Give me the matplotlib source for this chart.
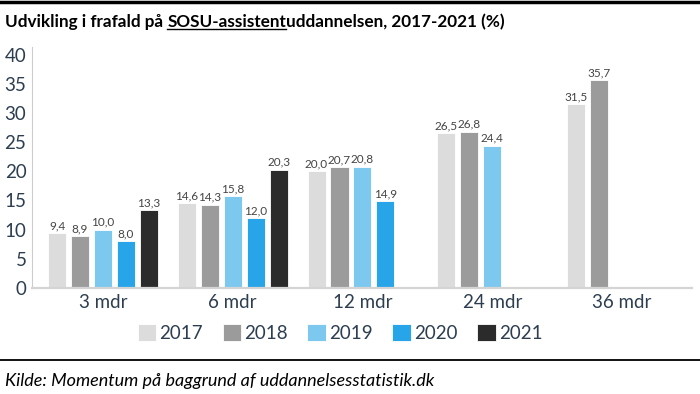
import numpy as np
import matplotlib
matplotlib.use("Agg")
import matplotlib.pyplot as plt
from matplotlib.lines import Line2D

plt.rcParams["font.family"] = ["Lato", "DejaVu Sans"]

# data
categories = ["3 mdr", "6 mdr", "12 mdr", "24 mdr", "36 mdr"]
years = ["2017", "2018", "2019", "2020", "2021"]
v2017 = [9.4, 14.6, 20.0, 26.5, 31.5]
v2018 = [8.9, 14.3, 20.7, 26.8, 35.7]
v2019 = [10.0, 15.8, 20.8, 24.4, np.nan]
v2020 = [8.0, 12.0, 14.9, np.nan, np.nan]
v2021 = [13.3, 20.3, np.nan, np.nan, np.nan]
series = [v2017, v2018, v2019, v2020, v2021]
colors = ["#dcdcdc", "#9b9b9b", "#7dc8ee", "#27a5e8", "#2b2b2b"]

text_col = "#2c3e50"

fig = plt.figure(figsize=(7, 3.94), dpi=100)
W, H = 700, 394
ax = fig.add_axes([32 / W, 1 - 288 / H, (692 - 32) / W, (288 - 47) / H])

x = np.arange(len(categories))
pitch = 0.177
width = 0.139
for i, (vals, c, yr) in enumerate(zip(series, colors, years)):
    pos = x + (i - 2) * pitch
    ax.bar(pos, vals, width, color=c, edgecolor="white", linewidth=0.6, label=yr)
    for xp, v in zip(pos, vals):
        if np.isnan(v):
            continue
        ax.text(xp, v + 0.3, f"{v:.1f}".replace(".", ","), ha="center", va="bottom",
                fontsize=8.5, color="#444444")

ax.set_xlim(-0.547, 4.54)
ax.set_ylim(0, 41.3)
ax.set_yticks(range(0, 41, 5))
ax.set_xticks(x)
ax.set_xticklabels(categories)
ax.tick_params(axis="both", length=0, labelsize=13.5, colors=text_col)
ax.tick_params(axis="y", pad=4)
ax.tick_params(axis="x", pad=4)
for s in ["top", "right"]:
    ax.spines[s].set_visible(False)
ax.spines["left"].set_color("#cccccc")
ax.spines["left"].set_linewidth(0.8)
ax.spines["bottom"].set_color("#d4d4d4")
ax.spines["bottom"].set_linewidth(1.6)

leg = fig.legend(loc="center", bbox_to_anchor=(340 / W, 1 - 333 / H), ncol=5, frameon=False,
                 fontsize=13.5, handlelength=1.0, handleheight=1.0, handletextpad=0.15,
                 columnspacing=1.05, borderaxespad=0)
for t in leg.get_texts():
    t.set_color(text_col)

# linjer oben und unten
fig.add_artist(Line2D([0, 1], [1 - 2 / H, 1 - 2 / H], color="black", linewidth=2.5))
fig.add_artist(Line2D([0, 1], [1 - 360 / H, 1 - 360 / H], color="black", linewidth=1.3))

# titel, mittlerer teil unterstrichen
ty = 1 - 22 / H
parts = ["Udvikling i frafald på ", "SOSU-assistent", "uddannelsen, 2017-2021 (%)"]
fig.canvas.draw()
r = fig.canvas.get_renderer()
xpos = 5 / W
for j, p in enumerate(parts):
    t = fig.text(xpos, ty, p, fontsize=12.3, fontweight="bold", color="black", va="center", ha="left")
    bb = t.get_window_extent(r)
    if j == 1:
        uy = (bb.y0 + 1) / H
        fig.add_artist(Line2D([bb.x0 / W, bb.x1 / W], [uy, uy], color="black", linewidth=1))
    xpos = bb.x1 / W

fig.text(5 / W, 1 - 381 / H, "Kilde: Momentum på baggrund af uddannelsesstatistik.dk",
         fontsize=13, style="italic", color="black", va="center", ha="left")

fig.savefig("out.png", dpi=100)
